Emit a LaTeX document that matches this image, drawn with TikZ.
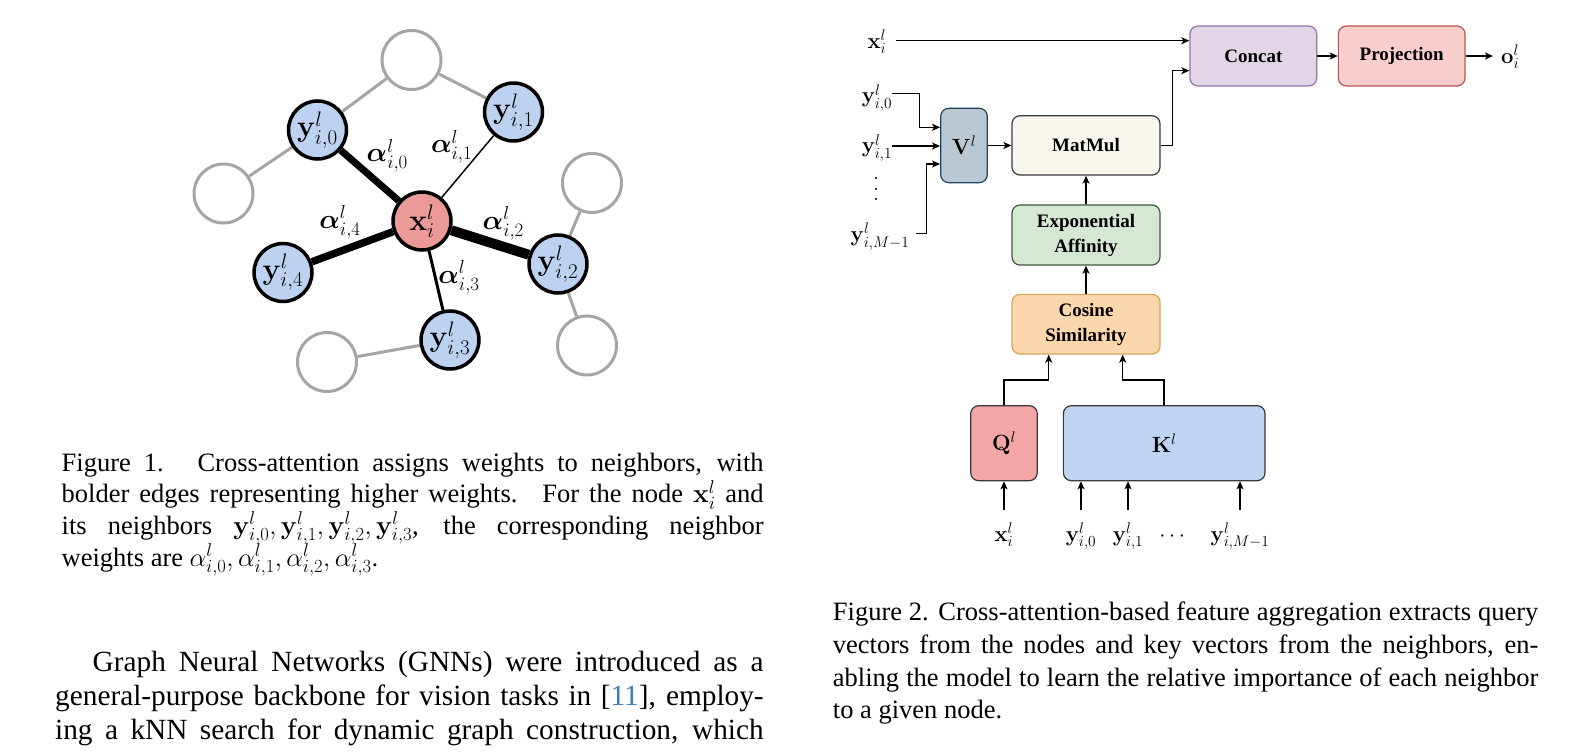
\RequirePackage{fix-cm}
\documentclass[tikz,border=0pt]{standalone}
\usepackage{amsmath}
\usepackage[no-math]{fontspec}
\setmainfont{Liberation Serif}
\usetikzlibrary{arrows.meta,calc,backgrounds}
\definecolor{nblue}{HTML}{BDD2F0}
\definecolor{nred}{HTML}{EB9A98}
\definecolor{ngray}{HTML}{A5A5A5}
\definecolor{cpurf}{HTML}{E1D5E7}\definecolor{cpurd}{HTML}{9673A6}
\definecolor{cprof}{HTML}{F8CECC}\definecolor{cprod}{HTML}{B85450}
\definecolor{cmatf}{HTML}{F9F7ED}\definecolor{cmatd}{HTML}{36393D}
\definecolor{cvf}{HTML}{BAC8D3}\definecolor{cvd}{HTML}{23445D}
\definecolor{cexf}{HTML}{D5E8D4}\definecolor{cexd}{HTML}{3B5A38}
\definecolor{ccof}{HTML}{FAD7AC}\definecolor{ccod}{HTML}{D9A25E}
\definecolor{cqf}{HTML}{F4A5A5}\definecolor{cqd}{HTML}{36393D}
\definecolor{ckf}{HTML}{BFD4F2}\definecolor{ckd}{HTML}{36393D}
\definecolor{citeblue}{HTML}{3A7DB8}
\newcommand\capfont{\fontsize{26.5}{31.7}\selectfont}
\newcommand\bodyfont{\fontsize{29.3}{33.3}\selectfont}
\newcommand\myvdots{\vbox{\baselineskip=10.5pt\lineskiplimit=0pt\hbox{$.$}\hbox{$.$}\hbox{$.$}}}
\begin{document}
\begin{tikzpicture}[x=1pt,y=-1pt,
  gnode/.style={circle,draw=black,line width=3.5pt,fill=nblue,minimum size=58pt,inner sep=0pt,font=\fontsize{30}{30}\selectfont},
  xnode/.style={gnode,fill=nred},
  enode/.style={circle,draw=ngray,line width=3pt,fill=white,minimum size=59pt,inner sep=0pt},
  gedge/.style={draw=ngray,line width=3pt},
  wlab/.style={font=\fontsize{27}{27}\selectfont,inner sep=0pt},
  blk/.style={rounded corners=8pt,line width=1.2pt,inner sep=0pt,align=center,font=\fontsize{19}{25}\bfseries},
  mblk/.style={blk,font=\fontsize{22}{22}\selectfont},
  mlab/.style={font=\fontsize{22}{22}\selectfont,inner sep=0pt},
  arr/.style={-{Stealth[length=8pt,width=7pt,inset=2pt]},line width=1.5pt},
  capl/.style={anchor=base west,inner sep=0pt,font=\capfont},
  bodl/.style={anchor=base west,inner sep=0pt,font=\bodyfont}]
\useasboundingbox (0,0) rectangle (1596,754);

% ---------- Figure 1 graph ----------
\node[xnode] (X) at (422,221) {$\mathbf{x}^l_i$};
\node[gnode] (Y0) at (317.5,130) {$\mathbf{y}^l_{i,0}$};
\node[gnode] (Y1) at (513.5,112) {$\mathbf{y}^l_{i,1}$};
\node[gnode] (Y2) at (558,264) {$\mathbf{y}^l_{i,2}$};
\node[gnode] (Y3) at (450,340) {$\mathbf{y}^l_{i,3}$};
\node[gnode] (Y4) at (283,272.5) {$\mathbf{y}^l_{i,4}$};
\node[enode] (G1) at (411.5,60) {};
\node[enode] (G2) at (223.5,193.5) {};
\node[enode] (G3) at (592,183) {};
\node[enode] (G4) at (587,345.5) {};
\node[enode] (G5) at (327,362) {};

\node[wlab] (A0) at (387.3,155.7) {$\boldsymbol{\alpha}^l_{i,0}$};
\node[wlab] (A1) at (451.7,146.7) {$\boldsymbol{\alpha}^l_{i,1}$};
\node[wlab] (A2) at (503.3,223.3) {$\boldsymbol{\alpha}^l_{i,2}$};
\node[wlab] (A3) at (459,277.3) {$\boldsymbol{\alpha}^l_{i,3}$};
\node[wlab] (A4) at (340,222.3) {$\boldsymbol{\alpha}^l_{i,4}$};

\begin{scope}[on background layer]
\fill[white] (0,0) rectangle (1596,754);
\draw[gedge] (G1) -- (Y0);
\draw[gedge] (G1) -- (Y1);
\draw[gedge] (G2) -- (Y0);
\draw[gedge] (G3) -- (Y2);
\draw[gedge] (G4) -- (Y2);
\draw[gedge] (G5) -- (Y3);
\draw[line width=7pt] (X) -- (Y0);
\draw[line width=1.5pt] (X) -- (Y1);
\draw[line width=10pt] (X) -- (Y2);
\draw[line width=3pt] (X) -- (Y3);
\draw[line width=7.5pt] (X) -- (Y4);
\end{scope}

% ---------- Figure 2 diagram ----------
\node[blk,fill=cpurf,draw=cpurd,minimum width=126.7pt,minimum height=60pt] (concat) at (1253.3,56) {Concat};
\node[blk,fill=cprof,draw=cprod,minimum width=126.7pt,minimum height=60pt] (proj) at (1401.7,56) {Projection};
\node[mblk,fill=cvf,draw=cvd,minimum width=46.6pt,minimum height=74.4pt] (V) at (964,145.5) {$\mathbf{V}^l$};
\node[blk,fill=cmatf,draw=cmatd,minimum width=148pt,minimum height=59.3pt] (mm) at (1086,145.4) {MatMul};
\node[blk,fill=cexf,draw=cexd,minimum width=148pt,minimum height=60pt] (ea) at (1086,235) {Exponential\\Affinity};
\node[blk,fill=ccof,draw=ccod,minimum width=148pt,minimum height=59.7pt] (cs) at (1086,324.2) {Cosine\\Similarity};
\node[mblk,fill=cqf,draw=cqd,minimum width=66.6pt,minimum height=75pt] (Q) at (1004,443.2) {$\mathbf{Q}^l$};
\node[mblk,fill=ckf,draw=ckd,minimum width=201.7pt,minimum height=75pt] (K) at (1164.2,443.2) {$\mathbf{K}^l$};

\node[mlab,anchor=base] (xl) at (877,48.3) {$\mathbf{x}^l_i$};
\node[mlab,anchor=base] (y0l) at (877,103) {$\mathbf{y}^l_{i,0}$};
\node[mlab,anchor=base] (y1l) at (877,153) {$\mathbf{y}^l_{i,1}$};
\node[mlab] (vd) at (876,189) {\myvdots};
\node[mlab,anchor=base] (yMl) at (880,241.7) {$\mathbf{y}^l_{i,M-1}$};
\node[mlab,anchor=base west] (ol) at (1501,63.3) {$\mathbf{o}^l_i$};

\node[mlab,anchor=base] (xb) at (1004,541) {$\mathbf{x}^l_i$};
\node[mlab,anchor=base] (yb0) at (1081,541) {$\mathbf{y}^l_{i,0}$};
\node[mlab,anchor=base] (yb1) at (1128,541) {$\mathbf{y}^l_{i,1}$};
\node[mlab,anchor=base] (ybd) at (1174,541) {$\cdots$};
\node[mlab,anchor=base] (ybM) at (1240,541) {$\mathbf{y}^l_{i,M-1}$};

\draw[arr,shorten <=9pt] (xl.east |- 0,40.7) -- (concat.west |- 0,40.7);
\draw[arr] (y0l.east |- 0,93.3) -- (919.3,93.3) |- (V.west |- 0,127.3);
\draw[arr] (y1l.east |- 0,146) -- (V.west |- 0,146);
\draw[arr,shorten <=6pt] (yMl.east |- 0,233.3) -- (926.7,233.3) |- (V.west |- 0,164);
\draw[arr] (V.east) -- (mm.west |- V.east);
\draw[arr] (mm.east) -- ++(11.7,0) |- (concat.west |- 0,70.7);
\draw[arr] (concat) -- (proj);
\draw[arr,shorten >=8pt] (proj.east) -- (ol.west |- proj.east);
\draw[arr] (ea) -- (mm);
\draw[arr] (cs) -- (ea);
\draw[arr] (Q.north) |- (1048.7,380) -- (cs.south -| 1048.7,0);
\draw[arr] (K.north) |- (1122.7,380) -- (cs.south -| 1122.7,0);
\draw[arr] (xb.north |- 0,510) -- (xb.north |- Q.south);
\draw[arr] (yb0.north |- 0,510) -- (yb0.north |- K.south);
\draw[arr] (yb1.north |- 0,510) -- (yb1.north |- K.south);
\draw[arr] (ybM.north |- 0,510) -- (ybM.north |- K.south);

% ---------- Captions and body text ----------
\node[capl] (c1a) at (61.5,471) {\makebox[702pt][s]{Figure 1.\hspace{6pt} Cross-attention assigns weights to neighbors, with}};
\node[capl] (c1b) at (61.5,502.7) {\makebox[702pt][s]{bolder edges representing higher weights.\hspace{6pt} For the node $\mathbf{x}^l_i$ and}};
\node[capl] (c1c) at (61.5,534.4) {\makebox[702pt][s]{its neighbors $\mathbf{y}^l_{i,0}, \mathbf{y}^l_{i,1}, \mathbf{y}^l_{i,2}, \mathbf{y}^l_{i,3}$, the corresponding neighbor}};
\node[capl] (c1d) at (61.5,566) {weights are $\alpha^l_{i,0}, \alpha^l_{i,1}, \alpha^l_{i,2}, \alpha^l_{i,3}$.};

\node[bodl] (b1) at (92.5,671) {\makebox[671pt][s]{Graph Neural Networks (GNNs) were introduced as a}};
\node[bodl] (b2) at (55,705) {\makebox[708.5pt][s]{general-purpose backbone for vision tasks in [\textcolor{citeblue}{11}], employ-}};
\node[bodl] (b3) at (55,739) {\makebox[708.5pt][s]{ing a kNN search for dynamic graph construction, which}};

\node[capl] (c2a) at (832.7,620) {\makebox[705.5pt][s]{Figure 2. Cross-attention-based feature aggregation extracts query}};
\node[capl] (c2b) at (832.7,653) {\makebox[705.5pt][s]{vectors from the nodes and key vectors from the neighbors, en-}};
\node[capl] (c2c) at (832.7,686) {\makebox[705.5pt][s]{abling the model to learn the relative importance of each neighbor}};
\node[capl] (c2d) at (832.7,718.5) {to a given node.};
\end{tikzpicture}
\end{document}
